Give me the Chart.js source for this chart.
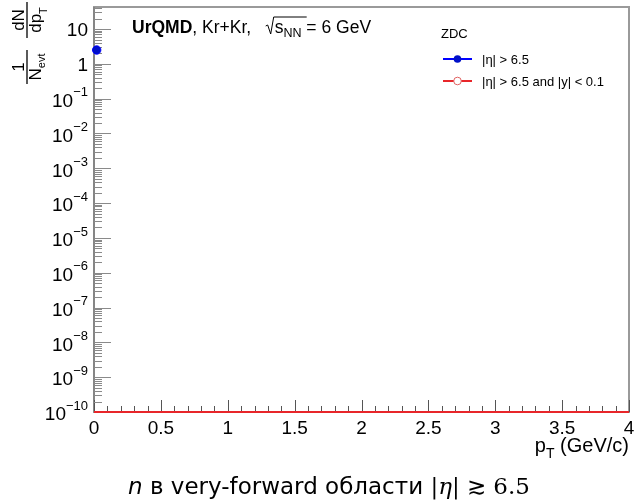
<!DOCTYPE html>
<html>
<head>
<meta charset="utf-8">
<script src="https://cdn.jsdelivr.net/npm/chart.js@4/dist/chart.umd.min.js"></script>
<style>
  html, body { margin: 0; padding: 0; background: #fff; }
  #wrap { width: 636px; height: 500px; position: relative; }
</style>
</head>
<body>
<div id="wrap"><canvas id="myChart" width="636" height="500"></canvas></div>
<script>
// data
const etaPt = [0.02];            // |eta| > 6.5, bin centre (GeV/c)
const etaValues = [2.5];         // 1/Nevt dN/dpT
const etaYPt = [0, 4];           // |eta| > 6.5 and |y| < 0.1 : empty, sits on the axis floor
const etaYValues = [1e-10, 1e-10];
const xTicks = [0, 0.5, 1, 1.5, 2, 2.5, 3, 3.5, 4];
const yExponents = [-10, -9, -8, -7, -6, -5, -4, -3, -2, -1, 0, 1];
const legendTitle = "ZDC";
const seriesNames = ["|\u03B7| > 6.5", "|\u03B7| > 6.5 and |y| < 0.1"];

const FONT = "'Liberation Sans', Arial, sans-serif";

function fmtExp(e) {
  return e < 0 ? "\u2212" + Math.abs(e) : String(e);
}

const rootStyle = {
  id: "rootStyle",
  beforeDatasetsDraw(chart) {
    const ctx = chart.ctx;
    const a = chart.chartArea;
    const xs = chart.scales.x, ys = chart.scales.y;
    ctx.save();
    // frame
    ctx.strokeStyle = "#9a9a9a";
    ctx.lineWidth = 2;
    ctx.strokeRect(a.left, a.top, a.right - a.left, a.bottom - a.top);
    ctx.strokeStyle = "#808080";
    ctx.lineWidth = 1.5;
    ctx.beginPath();
    ctx.moveTo(a.left, a.top); ctx.lineTo(a.left, a.bottom); ctx.lineTo(a.right, a.bottom);
    ctx.stroke();

    // x ticks (inside, from the bottom)
    ctx.strokeStyle = "#555";
    ctx.lineWidth = 1;
    for (let i = 0; i <= 40; i++) {
      const v = i / 10;
      const px = Math.round(xs.getPixelForValue(v)) + 0.5;
      const len = (i % 5 === 0) ? 12 : 6;
      ctx.beginPath();
      ctx.moveTo(px, a.bottom);
      ctx.lineTo(px, a.bottom - len);
      ctx.stroke();
    }
    // y ticks (inside, from the left)
    ctx.strokeStyle = "#8a8a8a";
    for (let e = yExponents[0]; e <= 1; e++) {
      for (let m = 1; m <= 9; m++) {
        const v = m * Math.pow(10, e);
        if (v > ys.max) break;
        const py = Math.round(ys.getPixelForValue(v)) + 0.5;
        const len = m === 1 ? 17 : 8;
        ctx.beginPath();
        ctx.moveTo(a.left, py);
        ctx.lineTo(a.left + len, py);
        ctx.stroke();
      }
    }
    ctx.restore();
  },
  afterDraw(chart) {
    const ctx = chart.ctx;
    const a = chart.chartArea;
    const xs = chart.scales.x, ys = chart.scales.y;
    ctx.save();
    ctx.fillStyle = "#000";

    // x tick labels
    ctx.font = "19px " + FONT;
    ctx.textAlign = "center";
    ctx.textBaseline = "top";
    xTicks.forEach(v => {
      ctx.fillText(String(v), xs.getPixelForValue(v), a.bottom + 7);
    });

    // y tick labels
    yExponents.forEach(e => {
      const py = ys.getPixelForValue(Math.pow(10, e));
      const right = 88;
      ctx.textBaseline = "middle";
      if (e === 0 || e === 1) {
        ctx.font = "19px " + FONT;
        ctx.textAlign = "right";
        ctx.fillText(e === 0 ? "1" : "10", right, py + 2);
      } else {
        ctx.font = "13px " + FONT;
        const es = fmtExp(e);
        const ew = ctx.measureText(es).width;
        ctx.textAlign = "left";
        ctx.fillText(es, right - ew, py - 6);
        ctx.font = "19px " + FONT;
        ctx.textAlign = "right";
        ctx.fillText("10", right - ew, py + 3);
      }
    });

    // x title
    ctx.font = "20px " + FONT;
    ctx.textAlign = "right";
    ctx.textBaseline = "alphabetic";
    const tail = " (GeV/c)";
    ctx.fillText(tail, a.right, 452);
    const tw = ctx.measureText(tail).width;
    ctx.font = "14px " + FONT;
    const tw2 = ctx.measureText("T").width;
    ctx.fillText("T", a.right - tw, 458);
    ctx.font = "20px " + FONT;
    ctx.fillText("p", a.right - tw - tw2, 452);

    // y title (rotated fractions)
    function frac(cy, num, den, denSub, halfLen) {
      ctx.save();
      ctx.translate(27, cy);
      ctx.rotate(-Math.PI / 2);
      ctx.strokeStyle = "#000";
      ctx.lineWidth = 1.3;
      ctx.beginPath();
      ctx.moveTo(-halfLen, 0); ctx.lineTo(halfLen, 0);
      ctx.stroke();
      ctx.font = "17px " + FONT;
      ctx.textAlign = "center";
      ctx.textBaseline = "alphabetic";
      ctx.fillText(num, 0, -3);
      ctx.font = "17px " + FONT;
      const w1 = ctx.measureText(den).width;
      ctx.font = "11px " + FONT;
      const w2 = ctx.measureText(denSub).width;
      const x0 = -(w1 + w2) / 2;
      ctx.font = "17px " + FONT;
      ctx.textAlign = "left";
      ctx.fillText(den, x0, 14);
      ctx.font = "11px " + FONT;
      ctx.fillText(denSub, x0 + w1, denSub === "T" ? 20 : 18);
      ctx.restore();
    }
    frac(20, "dN", "dp", "T", 18);
    frac(67, "1", "N", "evt", 17);

    // header text
    ctx.textAlign = "left";
    ctx.textBaseline = "alphabetic";
    let x = 132;
    const by = 33;
    ctx.font = "bold 17.5px " + FONT;
    ctx.fillText("UrQMD", x, by);
    x += ctx.measureText("UrQMD").width;
    ctx.font = "17.5px " + FONT;
    const mid = ", Kr+Kr,   ";
    ctx.fillText(mid, x, by);
    x += ctx.measureText(mid).width;
    // radical sign
    ctx.strokeStyle = "#000";
    ctx.lineWidth = 1;
    ctx.beginPath();
    ctx.moveTo(x, by - 7);
    ctx.lineTo(x + 2, by - 8);
    ctx.lineTo(x + 5, by + 1);
    ctx.lineTo(x + 8, by - 16);
    ctx.lineTo(x + 41, by - 16);
    ctx.stroke();
    x += 9;
    ctx.fillText("s", x, by);
    x += ctx.measureText("s").width;
    ctx.font = "12.5px " + FONT;
    ctx.fillText("NN", x, by + 4);
    x += ctx.measureText("NN").width;
    ctx.font = "17.5px " + FONT;
    ctx.fillText(" = 6 GeV", x, by);

    // legend
    ctx.font = "13px " + FONT;
    ctx.fillText(legendTitle, 441, 38);
    const ds = chart.data.datasets;
    [59, 81].forEach((ly, i) => {
      const d = ds[i];
      ctx.strokeStyle = d.borderColor;
      ctx.lineWidth = 2;
      ctx.beginPath();
      ctx.moveTo(443, ly); ctx.lineTo(472, ly);
      ctx.stroke();
      ctx.beginPath();
      ctx.arc(457.5, ly, 3.8, 0, Math.PI * 2);
      if (i === 0) {
        ctx.fillStyle = d.backgroundColor;
        ctx.fill();
      } else {
        ctx.fillStyle = "#fff";
        ctx.fill();
        ctx.lineWidth = 1;
        ctx.strokeStyle = "#e06060";
        ctx.stroke();
      }
      ctx.fillStyle = "#000";
      ctx.font = "13px " + FONT;
      ctx.textBaseline = "middle";
      ctx.fillText(seriesNames[i], 482, ly + 1);
      ctx.textBaseline = "alphabetic";
    });

    // caption below
    const cy = 494;
    const parts = [
      { t: "n", f: "italic 23px 'DejaVu Sans', sans-serif" },
      { t: " \u0432 very-forward \u043E\u0431\u043B\u0430\u0441\u0442\u0438 ", f: "23px 'DejaVu Sans', sans-serif" },
      { t: "|", f: "23px 'DejaVu Serif', serif" },
      { t: "\u03B7", f: "italic 23px 'DejaVu Serif', serif" },
      { t: "| \u2273 6.5", f: "23px 'DejaVu Serif', serif" }
    ];
    let total = 0;
    parts.forEach(p => { ctx.font = p.f; total += ctx.measureText(p.t).width; });
    let cx = 329 - total / 2;
    parts.forEach(p => {
      ctx.font = p.f;
      ctx.fillText(p.t, cx, cy);
      cx += ctx.measureText(p.t).width;
    });
    ctx.restore();
  }
};

new Chart(document.getElementById("myChart").getContext("2d"), {
  type: "scatter",
  data: {
    datasets: [
      {
        label: seriesNames[0],
        data: etaPt.map((x, i) => ({ x: x, y: etaValues[i] })),
        borderColor: "#0000ff",
        backgroundColor: "#0010c8",
        pointRadius: 4.2,
        showLine: false,
        clip: false
      },
      {
        label: seriesNames[1],
        data: etaYPt.map((x, i) => ({ x: x, y: etaYValues[i] })),
        borderColor: "#e8262a",
        backgroundColor: "#e8262a",
        borderWidth: 2.2,
        pointRadius: 0,
        showLine: true,
        clip: false
      }
    ]
  },
  options: {
    responsive: false,
    animation: false,
    layout: { padding: { left: 94, right: 7, top: 7, bottom: 88 } },
    plugins: { legend: { display: false }, tooltip: { enabled: false } },
    scales: {
      x: { type: "linear", min: 0, max: 4, display: false },
      y: { type: "logarithmic", min: 1e-10, max: 43, display: false }
    }
  },
  plugins: [rootStyle]
});
</script>
</body>
</html>
